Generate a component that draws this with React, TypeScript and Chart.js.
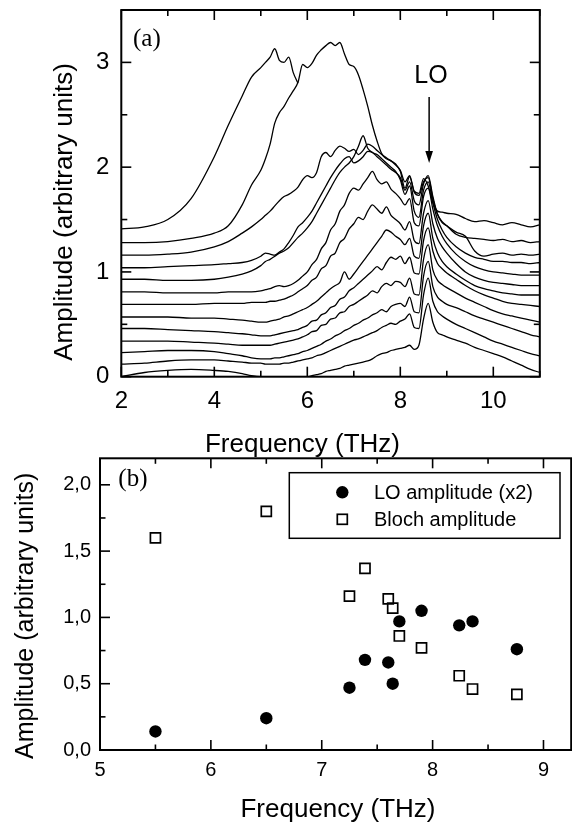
import React, { useEffect, useRef } from "react";
import { Chart, registerables } from "chart.js";

Chart.register(...registerables);

const SANS = "'Liberation Sans', Arial, sans-serif";
const SERIF = "'Liberation Serif', 'Times New Roman', serif";

// ---------- Panel (a): spectra ----------
const FREQ_GRID = [
  2, 2.5, 3, 3.5, 4, 4.3, 4.6, 4.8,
  5.0, 5.1, 5.2, 5.3, 5.4, 5.5, 5.6, 5.7, 5.8, 5.9,
  6.0, 6.1, 6.2, 6.3, 6.4, 6.5, 6.6, 6.7, 6.8, 6.9,
  7.0, 7.1, 7.2, 7.3, 7.4, 7.5, 7.6, 7.7, 7.8, 7.9,
  8.0, 8.1, 8.2, 8.3, 8.4, 8.5, 8.6, 8.7, 8.8, 8.9,
  9.0, 9.2, 9.4, 9.6, 9.8, 10.0, 10.2, 10.4, 10.6, 10.8, 11.0,
];

const SPEC_0 = [
  0.00, 0.04, 0.06, 0.07, 0.06, 0.05, 0.03, 0.01,
  0.00, 0.00, 0.00, 0.00, 0.00, 0.00, 0.00, 0.00, 0.00, 0.00,
  0.00, 0.01, 0.02, 0.03, 0.05, 0.06, 0.07, 0.08, 0.10, 0.11,
  0.12, 0.13, 0.14, 0.15, 0.17, 0.20, 0.22, 0.23, 0.25, 0.26,
  0.27, 0.28, 0.30, 0.26, 0.30, 0.55, 0.70, 0.52, 0.42, 0.40,
  0.38, 0.35, 0.32, 0.28, 0.25, 0.22, 0.19, 0.15, 0.11, 0.07, 0.04,
];
const SPEC_1 = [
  0.12, 0.13, 0.15, 0.16, 0.16, 0.15, 0.14, 0.13,
  0.13, 0.12, 0.12, 0.12, 0.12, 0.13, 0.13, 0.14, 0.15, 0.16,
  0.17, 0.18, 0.20, 0.21, 0.23, 0.25, 0.27, 0.29, 0.31, 0.33,
  0.35, 0.36, 0.38, 0.40, 0.42, 0.44, 0.47, 0.49, 0.51, 0.50,
  0.53, 0.55, 0.60, 0.47, 0.46, 0.78, 0.94, 0.72, 0.62, 0.58,
  0.55, 0.50, 0.46, 0.42, 0.38, 0.34, 0.31, 0.28, 0.25, 0.22, 0.20,
];
const SPEC_2 = [
  0.23, 0.24, 0.25, 0.25, 0.24, 0.22, 0.20, 0.18,
  0.17, 0.17, 0.17, 0.18, 0.18, 0.19, 0.20, 0.21, 0.22, 0.24,
  0.25, 0.27, 0.29, 0.31, 0.34, 0.36, 0.39, 0.41, 0.44, 0.46,
  0.49, 0.51, 0.54, 0.56, 0.59, 0.61, 0.64, 0.62, 0.67, 0.69,
  0.70, 0.67, 0.76, 0.62, 0.61, 0.96, 1.10, 0.86, 0.76, 0.72,
  0.69, 0.66, 0.62, 0.58, 0.55, 0.52, 0.49, 0.46, 0.43, 0.40, 0.38,
];
const SPEC_3 = [
  0.34, 0.34, 0.34, 0.33, 0.32, 0.31, 0.30, 0.30,
  0.30, 0.30, 0.30, 0.31, 0.32, 0.33, 0.34, 0.35, 0.36, 0.38,
  0.40, 0.43, 0.44, 0.49, 0.50, 0.55, 0.56, 0.61, 0.62, 0.67,
  0.69, 0.72, 0.75, 0.78, 0.82, 0.80, 0.86, 0.89, 0.87, 0.91,
  0.90, 0.86, 0.94, 0.79, 0.78, 1.12, 1.26, 1.02, 0.92, 0.88,
  0.85, 0.80, 0.75, 0.71, 0.67, 0.63, 0.60, 0.58, 0.56, 0.54, 0.52,
];
const SPEC_4 = [
  0.46, 0.46, 0.45, 0.44, 0.43, 0.42, 0.41, 0.40,
  0.39, 0.39, 0.39, 0.40, 0.41, 0.42, 0.43, 0.44, 0.45, 0.47,
  0.49, 0.53, 0.54, 0.59, 0.61, 0.66, 0.68, 0.74, 0.76, 0.82,
  0.85, 0.89, 0.93, 0.97, 1.01, 1.05, 1.02, 1.09, 1.14, 1.12,
  1.15, 1.08, 1.14, 0.99, 0.98, 1.30, 1.42, 1.20, 1.08, 1.03,
  0.99, 0.93, 0.87, 0.82, 0.78, 0.75, 0.72, 0.70, 0.69, 0.68, 0.67,
];
const SPEC_5 = [
  0.57, 0.57, 0.57, 0.56, 0.56, 0.55, 0.54, 0.53,
  0.52, 0.52, 0.53, 0.54, 0.55, 0.57, 0.58, 0.60, 0.62, 0.64,
  0.66, 0.69, 0.72, 0.76, 0.80, 0.84, 0.87, 0.90, 1.00, 0.93,
  0.98, 1.04, 1.10, 1.16, 1.22, 1.28, 1.34, 1.40, 1.38, 1.34,
  1.31, 1.26, 1.32, 1.15, 1.13, 1.44, 1.56, 1.32, 1.18, 1.10,
  1.05, 0.98, 0.92, 0.87, 0.84, 0.82, 0.80, 0.79, 0.78, 0.78, 0.78,
];
const SPEC_6 = [
  0.69, 0.69, 0.69, 0.69, 0.70, 0.70, 0.70, 0.71,
  0.71, 0.71, 0.72, 0.72, 0.73, 0.74, 0.76, 0.78, 0.81, 0.84,
  0.87, 0.92, 0.95, 1.03, 1.06, 1.15, 1.18, 1.28, 1.32, 1.41,
  1.46, 1.52, 1.50, 1.58, 1.64, 1.60, 1.56, 1.62, 1.54, 1.50,
  1.46, 1.40, 1.48, 1.30, 1.27, 1.56, 1.68, 1.46, 1.32, 1.24,
  1.18, 1.08, 1.00, 0.95, 0.92, 0.90, 0.89, 0.88, 0.87, 0.87, 0.87,
];
const SPEC_7 = [
  0.81, 0.81, 0.80, 0.80, 0.80, 0.81, 0.81, 0.81,
  0.82, 0.83, 0.84, 0.86, 0.87, 0.86, 0.87, 0.89, 0.92, 0.96,
  1.00, 1.07, 1.12, 1.22, 1.28, 1.40, 1.46, 1.58, 1.64, 1.75,
  1.80, 1.78, 1.84, 1.90, 1.96, 1.88, 1.84, 1.86, 1.79, 1.75,
  1.70, 1.64, 1.70, 1.47, 1.44, 1.72, 1.80, 1.60, 1.44, 1.34,
  1.27, 1.17, 1.10, 1.05, 1.02, 1.00, 0.99, 0.98, 0.97, 0.97, 0.97,
];
const SPEC_8 = [
  0.93, 0.93, 0.92, 0.92, 0.93, 0.95, 0.98, 1.01,
  1.06, 1.10, 1.12, 1.15, 1.18, 1.20, 1.23, 1.28, 1.33, 1.37,
  1.42, 1.48, 1.56, 1.64, 1.72, 1.80, 1.88, 1.95, 2.00, 2.04,
  2.10, 2.20, 2.30, 2.18, 2.14, 2.12, 2.08, 2.04, 2.00, 1.96,
  1.88, 1.74, 1.82, 1.58, 1.52, 1.78, 1.86, 1.66, 1.50, 1.40,
  1.33, 1.24, 1.18, 1.14, 1.12, 1.10, 1.10, 1.09, 1.09, 1.08, 1.09,
];
const SPEC_9 = [
  1.04, 1.04, 1.05, 1.06, 1.07, 1.08, 1.09, 1.11,
  1.15, 1.18, 1.17, 1.16, 1.19, 1.22, 1.28, 1.35, 1.43, 1.47,
  1.52, 1.58, 1.66, 1.74, 1.82, 1.90, 1.97, 2.03, 2.08, 2.10,
  2.04, 2.06, 2.10, 2.15, 2.14, 2.10, 2.06, 2.02, 1.98, 1.95,
  1.90, 1.78, 1.86, 1.68, 1.64, 1.84, 1.92, 1.72, 1.55, 1.47,
  1.44, 1.38, 1.34, 1.20, 1.15, 1.17, 1.18, 1.16, 1.17, 1.16, 1.17,
];
const SPEC_10 = [
  1.16, 1.16, 1.17, 1.19, 1.24, 1.29, 1.37, 1.43,
  1.50, 1.54, 1.58, 1.63, 1.68, 1.72, 1.74, 1.77, 1.81, 1.88,
  1.92, 1.90, 1.95, 2.10, 2.14, 2.10, 2.16, 2.20, 2.18, 2.15,
  2.17, 2.12, 2.16, 2.22, 2.20, 2.16, 2.12, 2.08, 2.06, 2.02,
  1.97, 1.86, 1.92, 1.76, 1.73, 1.86, 1.90, 1.70, 1.55, 1.48,
  1.44, 1.36, 1.33, 1.32, 1.31, 1.30, 1.31, 1.29, 1.30, 1.28, 1.29,
];
const SPEC_11 = [
  1.28, 1.28, 1.29, 1.32, 1.37, 1.44, 1.64, 1.83,
  1.97, 2.08, 2.22, 2.42, 2.52, 2.58, 2.66, 2.73, 2.81, 2.98,
  2.95, 2.99, 3.07, 3.12, 3.16, 3.19, 3.16, 3.19, 3.08, 2.98,
  2.96, 2.88, 2.74, 2.58, 2.40, 2.25, 2.13, 2.09, 2.06, 2.03,
  1.96, 1.80, 1.91, 1.77, 1.75, 1.89, 1.82, 1.66, 1.58, 1.57,
  1.56, 1.55, 1.51, 1.48, 1.49, 1.47, 1.45, 1.47, 1.45, 1.43, 1.45,
];
const SPEC_12 = [
  1.41, 1.43, 1.50, 1.70, 2.10, 2.40, 2.68, 2.86,
  2.95, 3.00, 3.05, 3.13, 3.02, 3.00, 3.05, 2.90, 2.80,
];

const SPECTRA = [
  SPEC_0, SPEC_1, SPEC_2, SPEC_3, SPEC_4, SPEC_5, SPEC_6,
  SPEC_7, SPEC_8, SPEC_9, SPEC_10, SPEC_11, SPEC_12,
];

const X_TICKS_A = [2, 4, 6, 8, 10];
const X_MINOR_A = [3, 5, 7, 9, 11];
const Y_TICKS_A = [0, 1, 2, 3];
const Y_MINOR_A = [0.5, 1.5, 2.5];
const LO_ARROW = { x: 8.62, yTop: 2.67, yTip: 2.04, labelX: 8.66, labelY: 2.8 };

// ---------- Panel (b): amplitudes ----------
const FREQ_B = [5.5, 6.5, 7.25, 7.39, 7.6, 7.64, 7.7, 7.9, 8.24, 8.36, 8.76];
const LO_AMP = [0.14, 0.24, 0.47, 0.68, 0.66, 0.5, 0.97, 1.05, 0.94, 0.97, 0.76];
const BLOCH_AMP = [1.6, 1.8, 1.16, 1.37, 1.14, 1.07, 0.86, 0.77, 0.56, 0.46, 0.42];
const X_TICKS_B = [5, 6, 7, 8, 9];
const X_MINOR_B = [5.5, 6.5, 7.5, 8.5];
const Y_TICKS_B = [0, 0.5, 1.0, 1.5, 2.0];
const Y_MINOR_B = [0.25, 0.75, 1.25, 1.75];

function seg(ctx: CanvasRenderingContext2D, x1: number, y1: number, x2: number, y2: number) {
  ctx.beginPath();
  ctx.moveTo(x1, y1);
  ctx.lineTo(x2, y2);
  ctx.stroke();
}

function drawFrameTicks(chart: any, xMaj: number[], xMin: number[], yMaj: number[], yMin: number[], majL: number, minL: number, right: boolean) {
  const { ctx, chartArea: a } = chart;
  const xs = chart.scales.x;
  const ys = chart.scales.y;
  ctx.save();
  ctx.strokeStyle = "#000";
  ctx.lineWidth = 1.6;
  const xt = (v: number, L: number) => {
    const p = xs.getPixelForValue(v);
    seg(ctx, p, a.bottom, p, a.bottom - L);
    seg(ctx, p, a.top, p, a.top + L);
  };
  const yt = (v: number, L: number) => {
    const p = ys.getPixelForValue(v);
    seg(ctx, a.left, p, a.left + L, p);
    if (right) seg(ctx, a.right, p, a.right - L, p);
  };
  xMaj.forEach((v) => xt(v, majL));
  xMin.forEach((v) => xt(v, minL));
  yMaj.forEach((v) => yt(v, majL));
  yMin.forEach((v) => yt(v, minL));
  ctx.lineWidth = 2;
  ctx.strokeRect(a.left, a.top, a.right - a.left, a.bottom - a.top);
  ctx.restore();
}

function rotatedText(ctx: CanvasRenderingContext2D, text: string, x: number, y: number, font: string) {
  ctx.save();
  ctx.translate(x, y);
  ctx.rotate(-Math.PI / 2);
  ctx.font = font;
  ctx.textAlign = "center";
  ctx.textBaseline = "alphabetic";
  ctx.fillStyle = "#000";
  ctx.fillText(text, 0, 0);
  ctx.restore();
}

const panelAPlugin = {
  id: "panelA",
  afterDraw(chart: any) {
    drawFrameTicks(chart, X_TICKS_A, X_MINOR_A, Y_TICKS_A, Y_MINOR_A, 10, 6, true);
    const { ctx } = chart;
    const xs = chart.scales.x;
    const ys = chart.scales.y;
    ctx.save();
    ctx.fillStyle = "#000";
    ctx.strokeStyle = "#000";
    ctx.font = `25px ${SERIF}`;
    ctx.textAlign = "left";
    ctx.textBaseline = "alphabetic";
    ctx.fillText("(a)", 133, 46);
    ctx.font = `25px ${SANS}`;
    ctx.textAlign = "center";
    ctx.fillText("LO", xs.getPixelForValue(LO_ARROW.labelX), ys.getPixelForValue(LO_ARROW.labelY));
    const ax = xs.getPixelForValue(LO_ARROW.x);
    const y0 = ys.getPixelForValue(LO_ARROW.yTop);
    const y1 = ys.getPixelForValue(LO_ARROW.yTip);
    ctx.lineWidth = 1.5;
    seg(ctx, ax, y0, ax, y1 - 10);
    ctx.beginPath();
    ctx.moveTo(ax, y1);
    ctx.lineTo(ax - 3.8, y1 - 12);
    ctx.lineTo(ax + 3.8, y1 - 12);
    ctx.closePath();
    ctx.fill();
    ctx.font = `26px ${SANS}`;
    ctx.textAlign = "center";
    ctx.fillText("Frequency (THz)", 302.5, 452);
    ctx.restore();
    rotatedText(ctx, "Amplitude (arbitrary units)", 71.7, 212, `26px ${SANS}`);
  },
};

const panelBPlugin = {
  id: "panelB",
  afterDraw(chart: any) {
    drawFrameTicks(chart, X_TICKS_B, X_MINOR_B, Y_TICKS_B, Y_MINOR_B, 10, 5.5, false);
    const { ctx } = chart;
    ctx.save();
    ctx.fillStyle = "#000";
    ctx.strokeStyle = "#000";
    ctx.font = `25px ${SERIF}`;
    ctx.textAlign = "left";
    ctx.textBaseline = "alphabetic";
    ctx.fillText("(b)", 118.3, 46.2);
    ctx.lineWidth = 1.5;
    ctx.strokeRect(289.3, 32.7, 560 - 289.3, 98.3 - 32.7);
    ctx.beginPath();
    ctx.arc(342.3, 52.3, 6.2, 0, Math.PI * 2);
    ctx.fill();
    ctx.lineWidth = 1.7;
    ctx.strokeRect(337.3, 74.3, 10, 10);
    ctx.font = `20px ${SANS}`;
    ctx.textBaseline = "middle";
    ctx.fillText("LO amplitude (x2)", 374, 53);
    ctx.fillText("Bloch amplitude", 374, 80);
    ctx.font = `26px ${SANS}`;
    ctx.textAlign = "center";
    ctx.textBaseline = "alphabetic";
    ctx.fillText("Frequency (THz)", 338, 377);
    ctx.restore();
    rotatedText(ctx, "Amplitude (arbitrary units)", 33, 175.8, `25px ${SANS}`);
  },
};

export default function App() {
  const refA = useRef<HTMLCanvasElement>(null);
  const refB = useRef<HTMLCanvasElement>(null);

  useEffect(() => {
    const chartA = new Chart(refA.current as HTMLCanvasElement, {
      type: "line",
      data: {
        datasets: SPECTRA.map((s) => ({
          data: s.map((y, i) => ({ x: FREQ_GRID[i], y })),
          borderColor: "#000",
          borderWidth: 1.3,
          pointRadius: 0,
          fill: false,
          cubicInterpolationMode: "monotone" as const,
        })),
      },
      options: {
        responsive: false,
        animation: false,
        devicePixelRatio: 1,
        events: [],
        layout: { padding: { left: 0, top: 10, right: 32.2, bottom: 0 } },
        plugins: { legend: { display: false }, tooltip: { enabled: false } },
        scales: {
          x: {
            type: "linear",
            min: 2,
            max: 11,
            grid: { display: false, drawTicks: false },
            border: { display: false },
            ticks: {
              color: "#000",
              font: { family: SANS, size: 24 },
              padding: 10.6,
              maxRotation: 0,
              autoSkip: false,
              callback: (v: any) => String(v),
            },
            afterBuildTicks: (s: any) => {
              s.ticks = X_TICKS_A.map((v) => ({ value: v }));
            },
            afterFit: (s: any) => {
              s.height = 88.3;
              s.paddingLeft = 0;
              s.paddingRight = 0;
            },
          },
          y: {
            type: "linear",
            min: 0,
            max: 3.5,
            grid: { display: false, drawTicks: false },
            border: { display: false },
            ticks: {
              color: "#000",
              font: { family: SANS, size: 24 },
              padding: 12,
              autoSkip: false,
              callback: (v: any) => String(v),
            },
            afterBuildTicks: (s: any) => {
              s.ticks = Y_TICKS_A.map((v) => ({ value: v }));
            },
            afterFit: (s: any) => {
              s.width = 121.3;
              s.paddingTop = 0;
              s.paddingBottom = 0;
            },
          },
        },
      },
      plugins: [panelAPlugin],
    } as any);

    const chartB = new Chart(refB.current as HTMLCanvasElement, {
      type: "scatter",
      data: {
        datasets: [
          {
            label: "LO amplitude (x2)",
            data: FREQ_B.map((x, i) => ({ x, y: LO_AMP[i] })),
            pointStyle: "circle",
            pointRadius: 6.2,
            backgroundColor: "#000",
            borderColor: "#000",
            borderWidth: 0,
          },
          {
            label: "Bloch amplitude",
            data: FREQ_B.map((x, i) => ({ x, y: BLOCH_AMP[i] })),
            pointStyle: "rect",
            pointRadius: 7.1,
            backgroundColor: "rgba(0,0,0,0)",
            borderColor: "#000",
            borderWidth: 1.7,
          },
        ],
      },
      options: {
        responsive: false,
        animation: false,
        devicePixelRatio: 1,
        events: [],
        layout: { padding: { left: 0, top: 18.3, right: 5.1, bottom: 0 } },
        plugins: { legend: { display: false }, tooltip: { enabled: false } },
        scales: {
          x: {
            type: "linear",
            min: 5,
            max: 9.25,
            grid: { display: false, drawTicks: false },
            border: { display: false },
            ticks: {
              color: "#000",
              font: { family: SANS, size: 20 },
              padding: 8,
              maxRotation: 0,
              autoSkip: false,
              callback: (v: any) => String(v),
            },
            afterBuildTicks: (s: any) => {
              s.ticks = X_TICKS_B.map((v) => ({ value: v }));
            },
            afterFit: (s: any) => {
              s.height = 75;
              s.paddingLeft = 0;
              s.paddingRight = 0;
            },
          },
          y: {
            type: "linear",
            min: 0,
            max: 2.2,
            grid: { display: false, drawTicks: false },
            border: { display: false },
            ticks: {
              color: "#000",
              font: { family: SANS, size: 20 },
              padding: 9,
              autoSkip: false,
              callback: (v: any) => Number(v).toFixed(1).replace(".", ","),
            },
            afterBuildTicks: (s: any) => {
              s.ticks = Y_TICKS_B.map((v) => ({ value: v }));
            },
            afterFit: (s: any) => {
              s.width = 100;
              s.paddingTop = 0;
              s.paddingBottom = 0;
            },
          },
        },
      },
      plugins: [panelBPlugin],
    } as any);

    return () => {
      chartA.destroy();
      chartB.destroy();
    };
  }, []);

  return (
    <div
      style={{
        position: "absolute",
        left: 0,
        top: 0,
        width: 572,
        height: 825,
        overflow: "hidden",
        background: "#fff",
      }}
    >
      <div style={{ position: "absolute", left: 0, top: 0, width: 572, height: 465 }}>
        <canvas ref={refA} width={572} height={465} style={{ display: "block", width: 572, height: 465 }} />
      </div>
      <div style={{ position: "absolute", left: 0, top: 440, width: 580, height: 385 }}>
        <canvas ref={refB} width={580} height={385} style={{ display: "block", width: 580, height: 385 }} />
      </div>
    </div>
  );
}
